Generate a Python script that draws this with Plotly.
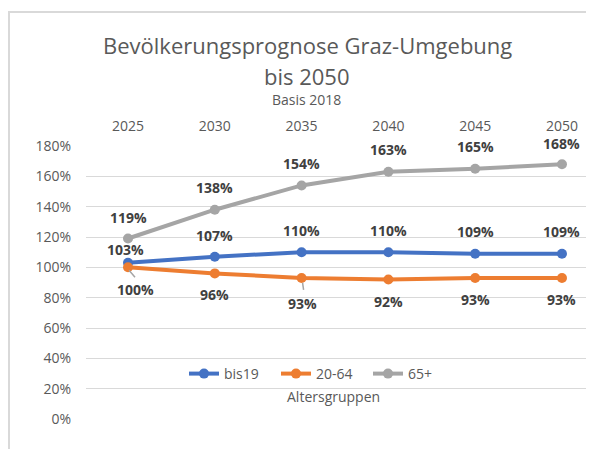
import plotly.graph_objects as go

# ---- data ----
years = ["2025", "2030", "2035", "2040", "2045", "2050"]
bis19 = [103, 107, 110, 110, 109, 109]
age20_64 = [100, 96, 93, 92, 93, 93]
age65plus = [119, 138, 154, 163, 165, 168]
y_ticks = [0, 20, 40, 60, 80, 100, 120, 140, 160, 180]

series = [
    ("bis19", bis19, "#4472C4"),
    ("20-64", age20_64, "#ED7D31"),
    ("65+", age65plus, "#A5A5A5"),
]

# ---- layout geometry (page coords; figure sits at an 8px body offset) ----
OFF = 8
W, H = 594 - OFF, 449 - OFF
ML, MR = 86 - OFF, 0
MT = 146 - OFF
MB = H - (419 - OFF)
PW = W - ML - MR
PH = H - MT - MB


def px(x):
    return (x - OFF - ML) / PW


def py(y):
    return (H - MB - (y - OFF)) / PH


FONT = "Open Sans"
GREY_TXT = "#595959"
LABEL_TXT = "#404040"

# label offsets (pixels) per series, per point: (dx, dy) where dy positive = down
label_offsets = {
    "bis19": [(-3, -13), (0, -21), (0, -22), (0, -22), (0, -22), (0, -22)],
    "20-64": [(7, 22), (0, 21), (1, 26), (0, 22), (0, 22), (0, 22)],
    "65+": [(0, -21), (0, -22), (0, -22), (0, -22), (0, -22), (0, -21)],
}
# leader lines: (series, point index, x0, y0, x1, y1) pixel offsets from point (y down)
leaders = [("20-64", 0, 1, 3, 7, 10), ("20-64", 2, 1, 5, 2, 12)]

fig = go.Figure()
for name, vals, color in series:
    fig.add_trace(go.Scatter(
        x=years, y=[v / 100 for v in vals], name=name,
        mode="lines+markers",
        line=dict(color=color, width=4),
        marker=dict(color=color, size=10),
        cliponaxis=False,
    ))

annotations = []
for name, vals, color in series:
    for i, v in enumerate(vals):
        dx, dy = label_offsets[name][i]
        annotations.append(dict(
            x=i, y=v / 100, xref="x", yref="y",
            text=f"<b>{v}%</b>", showarrow=False,
            xanchor="center", yanchor="middle",
            xshift=dx, yshift=-dy,
            font=dict(family=FONT, size=14, color=LABEL_TXT),
        ))

# titles
for text, xx, yy, size in [
    ("Bevölkerungsprognose Graz-Umgebung", 307, 45, 22),
    ("bis 2050", 307, 76, 22),
    ("Basis 2018", 306, 100, 14),
    ("Altersgruppen", 333, 396, 14),
]:
    annotations.append(dict(
        x=px(xx), y=py(yy), xref="paper", yref="paper", showarrow=False,
        xanchor="center", yanchor="middle", text=text,
        font=dict(family=FONT, size=size, color=GREY_TXT),
    ))

shapes = [
    dict(type="rect", xref="paper", yref="paper",
         x0=px(9), x1=px(640), y0=py(480), y1=py(12),
         line=dict(color="#D9D9D9", width=2), fillcolor="rgba(0,0,0,0)",
         layer="below"),
]
vals_by_name = {n: v for n, v, c in series}
for name, i, x0, y0, x1, y1 in leaders:
    shapes.append(dict(
        type="line", xref="x", yref="y",
        xsizemode="pixel", ysizemode="pixel",
        xanchor=i, yanchor=vals_by_name[name][i] / 100,
        x0=x0, x1=x1, y0=-y0, y1=-y1,
        line=dict(color="#A5A5A5", width=1.5),
    ))

fig.update_layout(
    width=W, height=H,
    margin=dict(l=ML, r=MR, t=MT, b=MB, pad=0),
    paper_bgcolor="white", plot_bgcolor="white",
    showlegend=True,
    legend=dict(
        orientation="h", x=px(184), y=py(374), xanchor="left", yanchor="middle",
        font=dict(family=FONT, size=14, color=GREY_TXT),
        bgcolor="rgba(0,0,0,0)", itemwidth=30, tracegroupgap=0,
        entrywidth=47, entrywidthmode="pixels",
    ),
    annotations=annotations,
    shapes=shapes,
    xaxis=dict(
        type="category", side="top", range=[-0.484, 5.369],
        showgrid=False, showline=False, zeroline=False, ticks="",
        tickfont=dict(family=FONT, size=14, color=GREY_TXT),
        ticklabelstandoff=11, fixedrange=True,
    ),
    yaxis=dict(
        range=[0, 1.8], tickvals=[t / 100 for t in y_ticks],
        ticktext=[f"{t}%" for t in y_ticks],
        showgrid=True, gridcolor="#D9D9D9", gridwidth=1.3,
        showline=False, zeroline=False, ticks="",
        tickfont=dict(family=FONT, size=14, color=GREY_TXT),
        ticklabelstandoff=14, fixedrange=True,
    ),
    font=dict(family=FONT),
)

fig.write_html("out.html", config={"displayModeBar": False})
